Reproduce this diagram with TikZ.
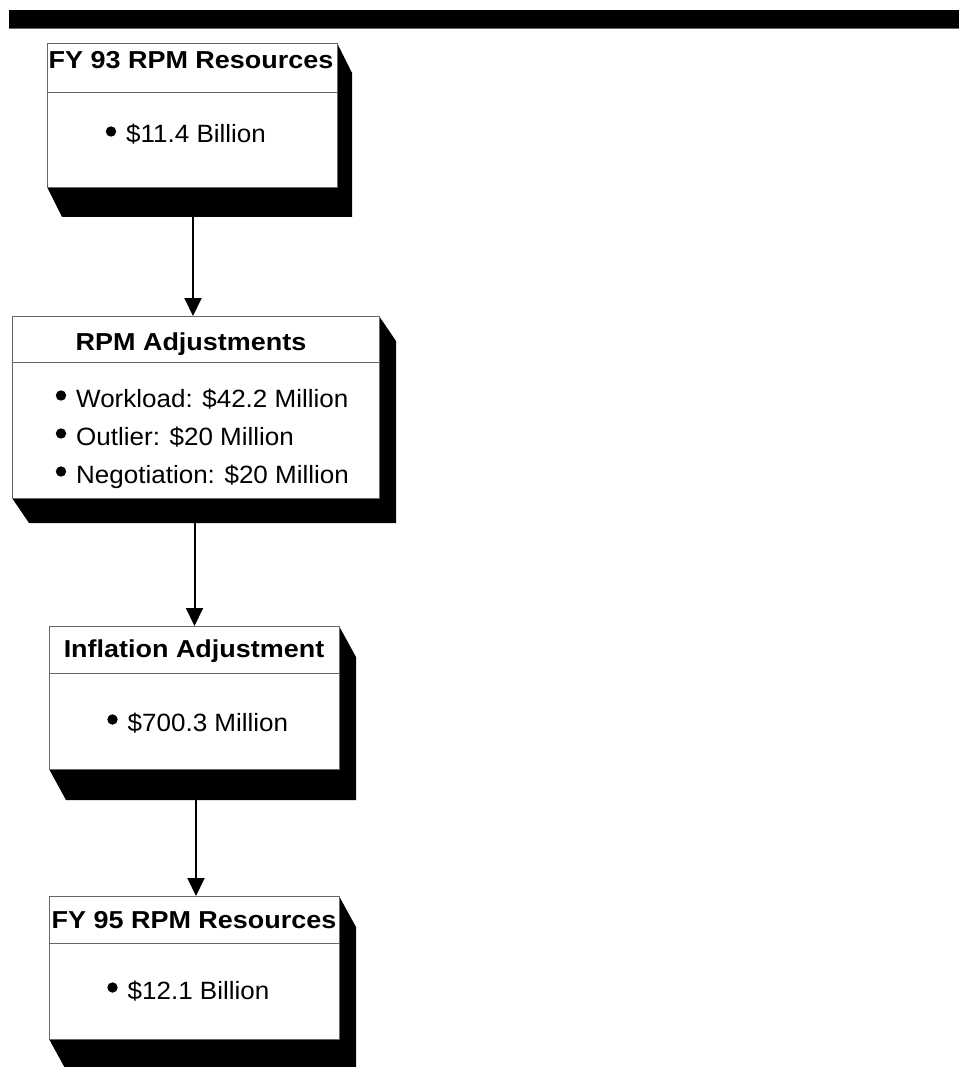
\documentclass[tikz,border=0pt]{standalone}
\usepackage{fontspec}
\setmainfont{Liberation Sans}
\newfontfamily\titlefont[FakeStretch=1.1]{Liberation Sans Bold}
\newfontfamily\bodyfont[FakeStretch=1.04]{Liberation Sans}
\usetikzlibrary{arrows.meta,calc,backgrounds}

\newcommand\dropshadow[3]{%
  \begin{pgfonlayer}{background}
    \fill[black] (#1.north east) -- ([shift={(#2,#3)}]#1.north east)
      -- ([shift={(#2,#3)}]#1.south east) -- ([shift={(#2,#3)}]#1.south west)
      -- (#1.south west) -- cycle;
  \end{pgfonlayer}}
\newcommand\bulletat[1]{\fill[black] ([shift={(-15,-11.5)}]#1.base west) circle[radius=5.2pt];}

\begin{document}
\begin{tikzpicture}[x=1pt,y=-1pt,
  box/.style={rectangle, draw=black!60, line width=0.9pt, fill=white,
    inner sep=0pt, outer sep=0pt},
  rule/.style={draw=black!60, line width=0.9pt},
  title/.style={font=\titlefont\fontsize{24.5}{29}\selectfont, inner sep=0pt, anchor=base},
  body/.style={font=\bodyfont\fontsize{25}{30}\selectfont, inner sep=0pt, anchor=base west},
  arr/.style={line width=2pt, -{Triangle[width=17pt,length=18pt]}}]

\useasboundingbox (0,0) rectangle (959,1067);

% top bar
\fill[black] (9,10) rectangle (959,28);
\draw[black!60, line width=0.8pt] (9,28.5) -- (959,28.5);

% boxes
\node[box, minimum width=290pt, minimum height=144pt] (b1) at (192,115) {};
\node[box, minimum width=367pt, minimum height=182pt] (b2) at (195.5,407) {};
\node[box, minimum width=290pt, minimum height=143pt] (b3) at (194,697.5) {};
\node[box, minimum width=290pt, minimum height=143pt] (b4) at (194,967.5) {};

\dropshadow{b1}{15}{30}
\dropshadow{b2}{17}{25}
\dropshadow{b3}{17}{31}
\dropshadow{b4}{17}{31}

% dividers
\coordinate (d1) at (0,92);
\coordinate (d2) at (0,362);
\coordinate (d3) at (0,673);
\coordinate (d4) at (0,943);
\draw[rule] (b1.west |- d1) -- (b1.east |- d1);
\draw[rule] (b2.west |- d2) -- (b2.east |- d2);
\draw[rule] (b3.west |- d3) -- (b3.east |- d3);
\draw[rule] (b4.west |- d4) -- (b4.east |- d4);

% titles
\node[title] (t1) at (191,68.5) {FY 93 RPM Resources};
\node[title] (t2) at (191,350) {RPM Adjustments};
\node[title] (t3) at (194,657) {Inflation Adjustment};
\node[title] (t4) at (194,928) {FY 95 RPM Resources};

% bodies
\node[body] (c1) at (126,143) {\$11.4 Billion};
\node[body] (c2a) at (76,407) {Workload: \$42.2 Million};
\node[body] (c2b) at (76,445) {Outlier: \$20 Million};
\node[body] (c2c) at (76,483) {Negotiation: \$20 Million};
\node[body] (c3) at (127.5,731) {\$700.3 Million};
\node[body] (c4) at (127.5,999) {\$12.1 Billion};
\bulletat{c1}
\bulletat{c2a}
\bulletat{c2b}
\bulletat{c2c}
\bulletat{c3}
\bulletat{c4}

% connectors
\coordinate (s1) at ([shift={(1,30)}]b1.south);
\coordinate (s2) at ([shift={(-1,25)}]b2.south);
\coordinate (s3) at ([shift={(2,31)}]b3.south);
\draw[arr] (s1) -- (s1 |- b2.north);
\draw[arr] (s2) -- (s2 |- b3.north);
\draw[arr] (s3) -- (s3 |- b4.north);
\end{tikzpicture}
\end{document}
